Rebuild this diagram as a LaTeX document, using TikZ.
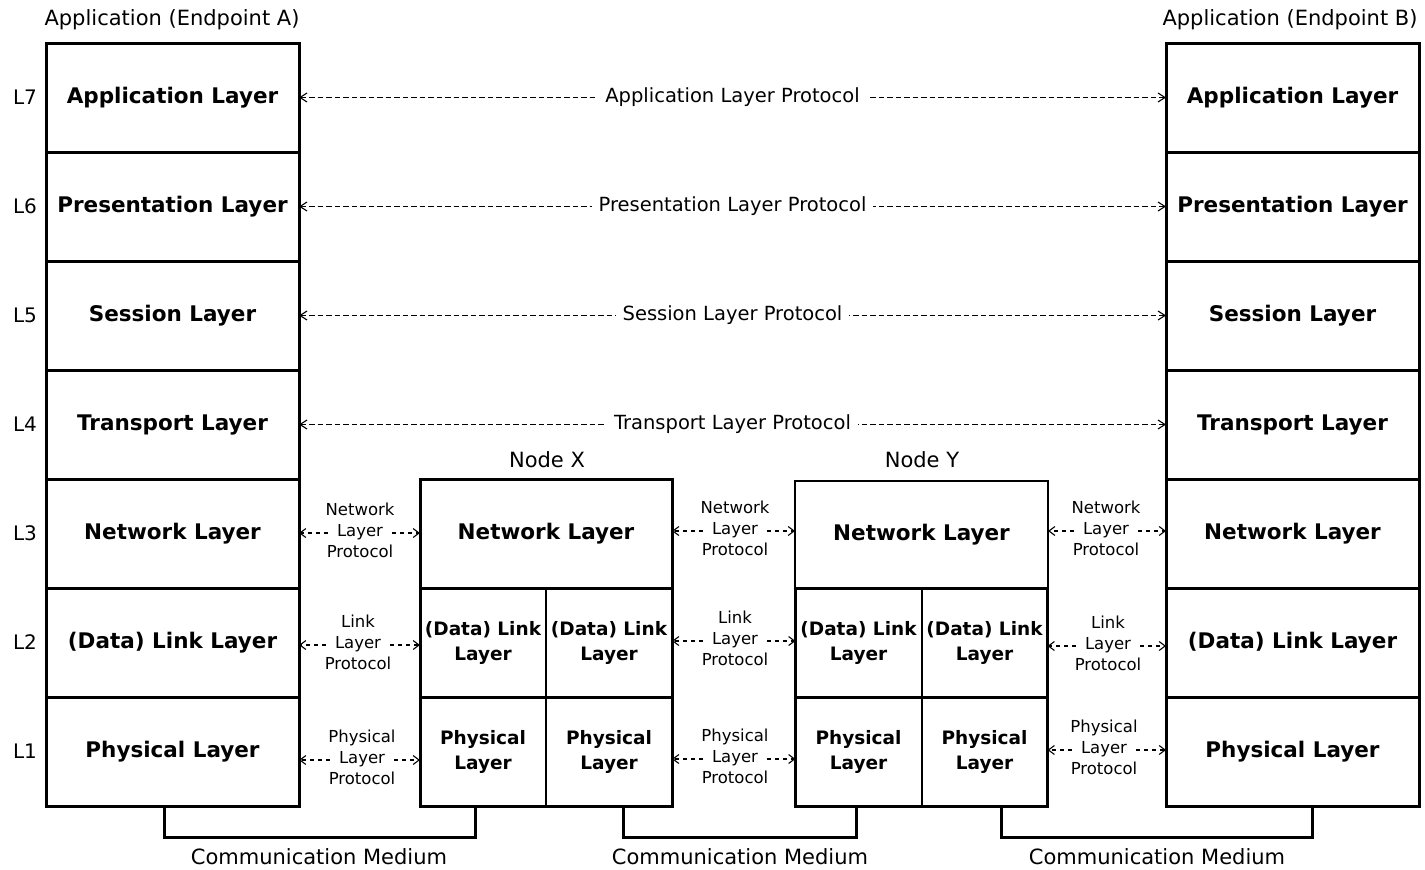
\documentclass[tikz,border=0pt]{standalone}
\usepackage{fontspec}
\setmainfont{DejaVu Sans}
\usetikzlibrary{arrows.meta}
\newcommand{\myfs}[2]{\fontsize{#1}{#2}\selectfont}
\newcommand{\smallproto}[5]{%
  \node[slab] (#1) at (#2) {Layer};
  \node[slab, anchor=south] (#1t) at (#1.north) {#3};
  \node[slab, anchor=north] (#1b) at (#1.south) {Protocol};
  \draw[sarrow] (#1.west) -- (#4.east |- #1.west);
  \draw[sarrow] (#1.east) -- (#5.west |- #1.east);
}
\begin{document}
\begin{tikzpicture}[x=1pt,y=-1pt,
  box/.style={draw, line width=3pt, outer sep=0pt, minimum width=253pt, minimum height=109pt, inner sep=0pt, align=center, font=\bfseries\myfs{21.5}{25}},
  subbox/.style={draw, line width=2pt, outer sep=0pt, minimum width=126pt, minimum height=109pt, inner sep=0pt, align=center, font=\bfseries\myfs{18.5}{25}},
  frame/.style={line width=3pt},
  proto/.style={line width=1.1pt, dash pattern=on 5.5pt off 3pt, {Straight Barb[length=7pt,width=9pt]}-{Straight Barb[length=7pt,width=9pt]}},
  plab/.style={fill=white, inner xsep=7pt, inner ysep=2pt, font=\myfs{19.5}{22}},
  slab/.style={inner xsep=9pt, inner ysep=4pt, text height=10pt, text depth=3pt, font=\myfs{16.5}{21}},
  sarrow/.style={line width=1.1pt, dash pattern=on 4pt off 4pt, -{Straight Barb[length=6pt,width=9pt]}},
  head/.style={font=\myfs{21}{24}},
  llab/.style={font=\myfs{20}{24}},
  medium/.style={line width=3pt},
  mlab/.style={font=\myfs{21}{24}}
]
\useasboundingbox (0,0) rectangle (1425,870);

% Endpoint A
\node[box] (a7) at (172.5,97.5) {Application Layer};
\node[box] (a6) at (172.5,206.5) {Presentation Layer};
\node[box] (a5) at (172.5,315.5) {Session Layer};
\node[box] (a4) at (172.5,424.5) {Transport Layer};
\node[box] (a3) at (172.5,533.5) {Network Layer};
\node[box] (a2) at (172.5,642.5) {(Data) Link Layer};
\node[box] (a1) at (172.5,751.5) {Physical Layer};

% Endpoint B
\node[box] (b7) at (1292.5,97.5) {Application Layer};
\node[box] (b6) at (1292.5,206.5) {Presentation Layer};
\node[box] (b5) at (1292.5,315.5) {Session Layer};
\node[box] (b4) at (1292.5,424.5) {Transport Layer};
\node[box] (b3) at (1292.5,533.5) {Network Layer};
\node[box] (b2) at (1292.5,642.5) {(Data) Link Layer};
\node[box] (b1) at (1292.5,751.5) {Physical Layer};

% Node X
\node[box, minimum width=252pt] (xn) at (546,533.5) {Network Layer};
\node[subbox] (xd1) at (483,642.5) {(Data) Link\\Layer};
\node[subbox] (xd2) at (609,642.5) {(Data) Link\\Layer};
\node[subbox] (xp1) at (483,751.5) {Physical\\Layer};
\node[subbox] (xp2) at (609,751.5) {Physical\\Layer};
\draw[frame] (xn.north west) rectangle (xp2.south east);
\draw[frame] (xd1.north west) -- (xd2.north east);
\draw[frame] (xp1.north west) -- (xp2.north east);

% Node Y
\node[box, line width=2pt, minimum height=107pt] (yn) at (921.5,534.5) {Network Layer};
\node[subbox] (yd1) at (858.5,642.5) {(Data) Link\\Layer};
\node[subbox] (yd2) at (984.5,642.5) {(Data) Link\\Layer};
\node[subbox] (yp1) at (858.5,751.5) {Physical\\Layer};
\node[subbox] (yp2) at (984.5,751.5) {Physical\\Layer};
\draw[frame] (yd1.north west) rectangle (yp2.south east);
\draw[frame] (yp1.north west) -- (yp2.north east);

% headings
\node[head] (ha) at (172,20) {Application (Endpoint A)};
\node[head] (hb) at (1290,20) {Application (Endpoint B)};
\node[head] (hx) at (547,460) {Node X};
\node[head] (hy) at (922,460) {Node Y};

% layer numbers
\node[llab] (l7) at (25,97.5) {L7};
\node[llab] (l6) at (25,206.5) {L6};
\node[llab] (l5) at (25,315.5) {L5};
\node[llab] (l4) at (25,424.5) {L4};
\node[llab] (l3) at (25,533.5) {L3};
\node[llab] (l2) at (25,642.5) {L2};
\node[llab] (l1) at (25,751.5) {L1};

% end-to-end protocols
\draw[proto] (a7.east) -- node[plab] (p7) {Application Layer Protocol} (b7.west);
\draw[proto] (a6.east) -- node[plab] (p6) {Presentation Layer Protocol} (b6.west);
\draw[proto] (a5.east) -- node[plab] (p5) {Session Layer Protocol} (b5.west);
\draw[proto] (a4.east) -- node[plab] (p4) {Transport Layer Protocol} (b4.west);

% hop protocols
\smallproto{s3a}{360,533}{Network}{a3}{xn}
\smallproto{s2a}{358,645}{Link}{a2}{xd1}
\smallproto{s1a}{362,760}{Physical}{a1}{xp1}
\smallproto{s3b}{735,531}{Network}{xn}{yn}
\smallproto{s2b}{735,641}{Link}{xd2}{yd1}
\smallproto{s1b}{735,759}{Physical}{xp2}{yp1}
\smallproto{s3c}{1106,531}{Network}{yn}{b3}
\smallproto{s2c}{1108,646}{Link}{yd2}{b2}
\smallproto{s1c}{1104,750}{Physical}{yp2}{b1}

% communication media
\coordinate (m1a) at (164,806);
\coordinate (m1b) at (475,806);
\coordinate (m2a) at (623,806);
\coordinate (m2b) at (856,806);
\coordinate (m3a) at (1001,806);
\coordinate (m3b) at (1312,806);
\draw[medium] (m1a) -- ++(0,31) -| (m1b);
\draw[medium] (m2a) -- ++(0,31) -| (m2b);
\draw[medium] (m3a) -- ++(0,31) -| (m3b);
\node[mlab] (c1) at (319,857) {Communication Medium};
\node[mlab] (c2) at (740,857) {Communication Medium};
\node[mlab] (c3) at (1157,857) {Communication Medium};
\end{tikzpicture}
\end{document}
